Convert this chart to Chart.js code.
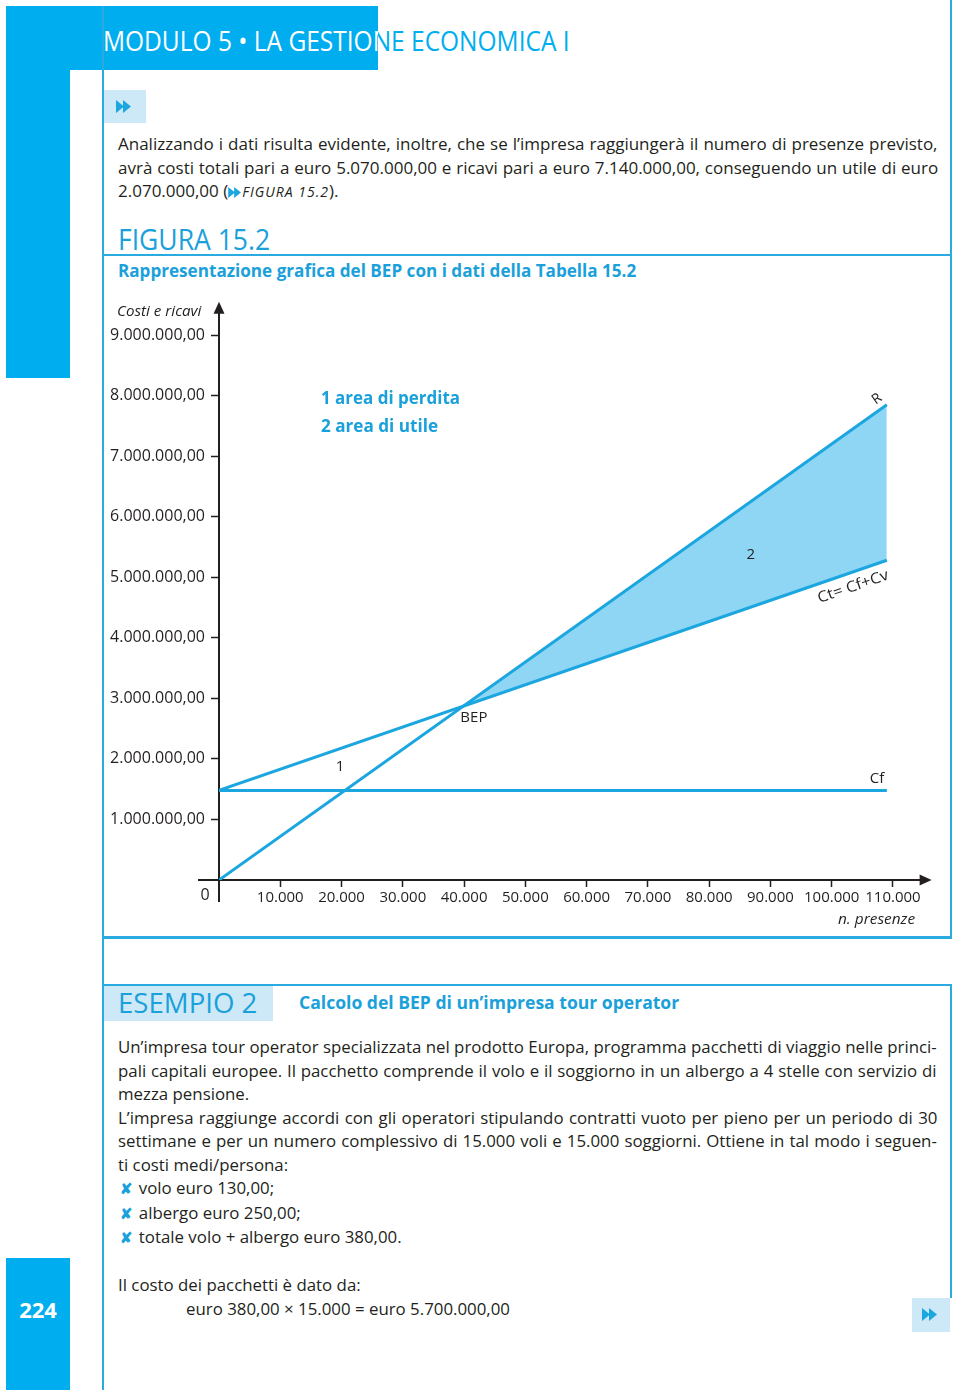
<!DOCTYPE html>
<html lang="it">
<head>
<meta charset="utf-8">
<title>Figura 15.2 - BEP</title>
<script src="https://cdn.jsdelivr.net/npm/chart.js@4.4.1/dist/chart.umd.min.js"></script>
<style>
  html, body { margin: 0; padding: 0; background: #fff; }
  body { width: 960px; height: 1393px; position: relative; overflow: hidden; font-family: 'Open Sans', 'Noto Sans', sans-serif; color: #231f20; }
  .abs { position: absolute; }
  .blk { position: absolute; background: #00aeef; }
  .rule { position: absolute; background: #29abe2; }
  .box { position: absolute; background: #cde9f7; }
  .ln { display: block; width: max-content; white-space: nowrap; transform-origin: 0 50%; }
  .para { position: absolute; left: 118px; font-size: 17px; line-height: 23.5px; }
  .hand { position: absolute; text-transform: uppercase; color: #1aa0da; white-space: nowrap; transform-origin: 0 50%; line-height: 1; width: max-content; }
  .cap { position: absolute; font-weight: 700; color: #1aa0da; font-size: 17px; line-height: 20px; white-space: nowrap; transform-origin: 0 50%; width: max-content; }
  .it { position: absolute; font-style: italic; font-size: 15px; line-height: 18px; white-space: nowrap; transform-origin: 0 50%; width: max-content; }
  .bx { color: #1aa0da; font-size: 15px; font-weight: 700; margin-left: 2px; margin-right: 6px; }
  .fig { text-transform: uppercase; font-size: 14px; font-style: italic; letter-spacing: 1px; }
</style>
</head>
<body>

<!-- blocchi blu della pagina -->
<div class="blk" style="left:6px;top:6px;width:372px;height:64px"></div>
<div class="blk" style="left:6px;top:6px;width:64px;height:372px"></div>
<div class="blk" style="left:6px;top:1258px;width:64px;height:132px"></div>
<div class="abs" style="left:6px;top:1296px;width:64px;text-align:center;color:#fff;font-weight:700;font-size:22px;line-height:26px">224</div>

<!-- filetti -->
<div class="rule" style="left:102px;top:6px;width:2px;height:1384px"></div>
<div class="rule" style="left:950px;top:0;width:2px;height:938px"></div>
<div class="rule" style="left:103px;top:254px;width:849px;height:2px"></div>
<div class="rule" style="left:103px;top:936px;width:849px;height:2.5px"></div>
<div class="rule" style="left:103px;top:984px;width:849px;height:2px"></div>
<div class="rule" style="left:950px;top:985px;width:2px;height:313px"></div>

<!-- testata -->
<div class="hand" data-w="467" style="left:103px;top:26px;font-size:28px;color:#00aeef">Modulo 5 • la gestione economica I</div>
<div class="abs" style="left:103px;top:0;width:275px;height:80px;overflow:hidden">
  <div class="hand" data-w="467" style="left:0;top:26px;font-size:28px;color:#fff">Modulo 5 • la gestione economica I</div>
</div>

<div class="box" style="left:104px;top:90px;width:42px;height:33px"></div>
<svg class="abs" style="left:116px;top:100px" width="16" height="13" viewBox="0 0 16 13"><path d="M0 0L8 6.5L0 13Z M7 0L15 6.5L7 13Z" fill="#1ba6df"/></svg>

<div class="para" data-pw="820" style="top:132px">
  <span class="ln j">Analizzando i dati risulta evidente, inoltre, che se l’impresa raggiungerà il numero di presenze previsto,</span>
  <span class="ln j">avrà costi totali pari a euro 5.070.000,00 e ricavi pari a euro 7.140.000,00, conseguendo un utile di euro</span>
  <span class="ln">2.070.000,00 (<svg width="14" height="11" viewBox="0 0 16 13" style="vertical-align:-1px"><path d="M0 0L8 6.5L0 13Z M7 0L15 6.5L7 13Z" fill="#1ba6df"/></svg><span class="fig">Figura 15.2</span>).</span>
</div>

<!-- figura -->
<div class="hand" data-w="152" style="left:118px;top:224px;font-size:30px">Figura 15.2</div>
<div class="cap" data-w="518" style="left:118px;top:261px">Rappresentazione grafica del BEP con i dati della Tabella 15.2</div>

<canvas id="bep" class="abs" style="left:103px;top:280px" width="848" height="660"></canvas>

<div class="it" data-w="84" style="left:117px;top:301px">Costi e ricavi</div>
<div class="it" data-w="77" style="left:838px;top:909px">n. presenze</div>

<!-- esempio -->
<div class="box" style="left:104px;top:986px;width:169px;height:35px"></div>
<div class="hand" data-w="139" style="left:118px;top:988px;font-size:28px">Esempio 2</div>
<div class="cap" data-w="380" style="left:299px;top:993px">Calcolo del BEP di un’impresa tour operator</div>

<div class="para" data-pw="819" style="top:1035px">
  <span class="ln j">Un’impresa tour operator specializzata nel prodotto Europa, programma pacchetti di viaggio nelle princi-</span>
  <span class="ln j">pali capitali europee. Il pacchetto comprende il volo e il soggiorno in un albergo a 4 stelle con servizio di</span>
  <span class="ln">mezza pensione.</span>
  <span class="ln j">L’impresa raggiunge accordi con gli operatori stipulando contratti vuoto per pieno per un periodo di 30</span>
  <span class="ln j">settimane e per un numero complessivo di 15.000 voli e 15.000 soggiorni. Ottiene in tal modo i seguen-</span>
  <span class="ln">ti costi medi/persona:</span>
  <span class="ln"><span class="bx">✘</span>volo euro 130,00;</span>
  <span class="ln"><span class="bx">✘</span>albergo euro 250,00;</span>
  <span class="ln"><span class="bx">✘</span>totale volo + albergo euro 380,00.</span>
  <span class="ln">&nbsp;</span>
  <span class="ln">Il costo dei pacchetti è dato da:</span>
  <span class="ln" style="margin-left:68px">euro 380,00 × 15.000 = euro 5.700.000,00</span>
</div>

<div class="box" style="left:912px;top:1298px;width:38px;height:34px"></div>
<svg class="abs" style="left:922px;top:1308px" width="16" height="13" viewBox="0 0 16 13"><path d="M0 0L8 6.5L0 13Z M7 0L15 6.5L7 13Z" fill="#1ba6df"/></svg>

<script>
// dati
const presenze = [0, 109000];
const ricavi = [0, 7850000];
const costiTotali = [1480000, 5280000];
const costiFissi = [1480000, 1480000];

const xTicks = [10000, 20000, 30000, 40000, 50000, 60000, 70000, 80000, 90000, 100000, 110000];
const yTicks = [1000000, 2000000, 3000000, 4000000, 5000000, 6000000, 7000000, 8000000, 9000000];

const ink = '#231f20';
const lineBlue = '#1ba6df';
const fillBlue = '#8fd6f5';
const family = "'Open Sans', 'Noto Sans', sans-serif";

function fmt(v) {
    return String(v).replace(/\B(?=(\d{3})+(?!\d))/g, '.');
}

// testo compresso in orizzontale come nel libro
function fitAll() {
    document.querySelectorAll('[data-w]').forEach(el => {
        const s = +el.dataset.w / el.offsetWidth;
        el.style.transform = 'scaleX(' + s + ')';
    });
    document.querySelectorAll('.para').forEach(p => {
        const W = +p.dataset.pw;
        const full = [...p.querySelectorAll('.j')];
        let s = 1;
        full.forEach(l => { s = Math.min(s, W / l.offsetWidth); });
        full.forEach(l => {
            const gaps = (l.textContent.match(/ /g) || []).length;
            l.style.wordSpacing = ((W / s - l.offsetWidth) / gaps) + 'px';
        });
        p.querySelectorAll('.ln').forEach(l => { l.style.transform = 'scaleX(' + s + ')'; });
    });
}

function txt(ctx, s, px, py, o) {
    o = o || {};
    ctx.save();
    ctx.translate(px, py);
    if (o.rot) ctx.rotate(o.rot);
    ctx.font = o.font || "15px " + family;
    ctx.fillStyle = o.color || ink;
    ctx.textAlign = o.align || 'center';
    ctx.textBaseline = 'middle';
    if (o.w) {
        const m = ctx.measureText(s).width;
        ctx.scale(o.w / m, 1);
    }
    ctx.fillText(s, 0, 0);
    ctx.restore();
}

const bepLabels = {
    id: 'bepLabels',
    afterDraw(chart) {
        const { ctx, chartArea: a, scales: { x, y } } = chart;
        ctx.save();
        // prolungamenti degli assi e frecce
        ctx.strokeStyle = ink;
        ctx.lineWidth = 2;
        ctx.beginPath();
        ctx.moveTo(a.left, a.bottom);
        ctx.lineTo(a.left, a.bottom + 22);
        ctx.moveTo(a.left - 21, a.bottom);
        ctx.lineTo(a.left, a.bottom);
        ctx.stroke();
        ctx.fillStyle = ink;
        ctx.beginPath();
        ctx.moveTo(a.left, a.top - 9);
        ctx.lineTo(a.left - 5.5, a.top + 3);
        ctx.lineTo(a.left + 5.5, a.top + 3);
        ctx.closePath();
        ctx.fill();
        ctx.beginPath();
        ctx.moveTo(a.right + 8, a.bottom);
        ctx.lineTo(a.right - 4, a.bottom - 5.5);
        ctx.lineTo(a.right - 4, a.bottom + 5.5);
        ctx.closePath();
        ctx.fill();
        ctx.restore();

        const px = v => x.getPixelForValue(v);
        const py = v => y.getPixelForValue(v);
        const angR = Math.atan2(py(ricavi[1]) - py(ricavi[0]), px(presenze[1]) - px(presenze[0]));
        const angCt = Math.atan2(py(costiTotali[1]) - py(costiTotali[0]), px(presenze[1]) - px(presenze[0]));

        txt(ctx, '0', a.left - 14, a.bottom + 15, { font: "16px " + family });
        txt(ctx, 'R', px(107400), py(7944000), { rot: angR, font: "14px " + family });
        txt(ctx, 'Ct= Cf+Cv', px(103500), py(4840000), { rot: angCt, w: 74 });
        txt(ctx, '2', px(86800), py(5370000));
        txt(ctx, 'Cf', px(107400), py(1668000));
        txt(ctx, 'BEP', px(41600), py(2675000));
        txt(ctx, '1', px(19750), py(1866000));
        txt(ctx, '1 area di perdita', px(16650), py(7944000), { align: 'left', font: "700 18px " + family, color: '#1aa0da', w: 139 });
        txt(ctx, '2 area di utile', px(16650), py(7480000), { align: 'left', font: "700 18px " + family, color: '#1aa0da', w: 117 });
    }
};

window.addEventListener('load', function () {
    fitAll();

    const pts = vals => presenze.map((p, i) => ({ x: p, y: vals[i] }));

    new Chart(document.getElementById('bep'), {
        type: 'line',
        data: {
            datasets: [
                {
                    label: 'R',
                    data: pts(ricavi),
                    borderColor: lineBlue,
                    borderWidth: 3,
                    pointRadius: 0,
                    fill: { target: 1, above: fillBlue, below: 'transparent' }
                },
                {
                    label: 'Ct',
                    data: pts(costiTotali),
                    borderColor: lineBlue,
                    borderWidth: 3,
                    pointRadius: 0,
                    fill: false
                },
                {
                    label: 'Cf',
                    data: pts(costiFissi),
                    borderColor: lineBlue,
                    borderWidth: 3,
                    pointRadius: 0,
                    fill: false
                }
            ]
        },
        options: {
            responsive: false,
            animation: false,
            layout: { padding: { top: 30.8, right: 27.4, bottom: 20, left: 0 } },
            plugins: {
                legend: { display: false },
                tooltip: { enabled: false },
                filler: { drawTime: 'beforeDatasetsDraw' }
            },
            scales: {
                x: {
                    type: 'linear',
                    min: 0,
                    max: 115000,
                    afterBuildTicks: s => { s.ticks = xTicks.map(v => ({ value: v })); },
                    afterFit: s => { s.height = 40; },
                    grid: { drawOnChartArea: false, tickLength: 7, tickWidth: 1.5, tickColor: ink },
                    border: { color: ink, width: 2 },
                    ticks: {
                        color: ink,
                        padding: 2,
                        maxRotation: 0,
                        autoSkip: false,
                        font: { family: family, size: 15 },
                        callback: v => fmt(v)
                    }
                },
                y: {
                    type: 'linear',
                    min: 0,
                    max: 9400000,
                    afterBuildTicks: s => { s.ticks = yTicks.map(v => ({ value: v })); },
                    afterFit: s => { s.width = 116; },
                    grid: { drawOnChartArea: false, tickLength: 8, tickWidth: 1.5, tickColor: ink },
                    border: { color: ink, width: 2 },
                    ticks: {
                        color: ink,
                        padding: 6,
                        autoSkip: false,
                        font: { family: family, size: 16 },
                        callback: v => fmt(v) + ',00'
                    }
                }
            }
        },
        plugins: [bepLabels]
    });
});
</script>
</body>
</html>
